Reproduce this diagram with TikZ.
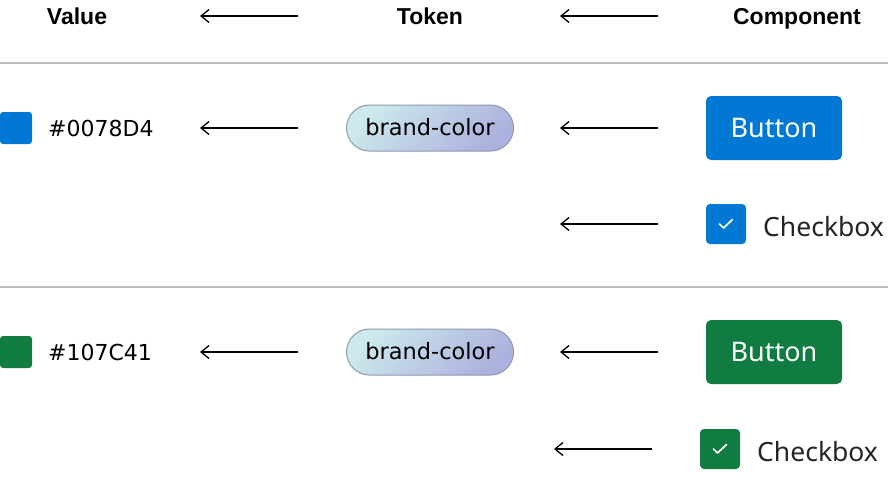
\documentclass[tikz,border=0pt]{standalone}
\usepackage{fontspec}
\setmainfont{DejaVu Sans}
\newfontfamily\headfont{Liberation Sans}
\newfontfamily\uifont{Noto Sans}
\usetikzlibrary{arrows.meta}

\definecolor{brandblue}{HTML}{0078D4}
\definecolor{brandgreen}{HTML}{107C41}
\definecolor{pilltop}{HTML}{CCE9EC}
\definecolor{pillbot}{HTML}{ADB1DE}
\definecolor{pillline}{HTML}{8F98AB}
\definecolor{rulegray}{HTML}{BDBDBD}
\definecolor{inkgray}{HTML}{242424}

\tikzset{
	head/.style={anchor=base, inner sep=0pt, font=\headfont\bfseries\fontsize{23}{26}\selectfont},
	arr/.style={-{Straight Barb[length=8pt,width=13pt]}, line width=1.3pt},
	swatch/.style={minimum size=32pt, inner sep=0pt, rounded corners=3pt},
	hexlbl/.style={anchor=base west, inner sep=0pt, font=\fontsize{22}{25}\selectfont},
	pill/.style={draw=pillline, line width=1pt, top color=pilltop, bottom color=pillbot,
		shading angle=45, minimum width=167pt, minimum height=46pt, rounded corners=23pt,
		inner sep=0pt, text height=16pt, text depth=2pt, font=\fontsize{22.5}{25}\selectfont},
	btn/.style={minimum width=136pt, minimum height=64pt, rounded corners=5pt,
		inner sep=0pt, text height=19pt, text depth=1pt, text=white, font=\uifont\fontsize{27}{30}\selectfont},
	chk/.style={minimum size=40pt, inner sep=0pt, rounded corners=4pt},
	chklbl/.style={anchor=base west, inner sep=0pt, text=inkgray, font=\uifont\fontsize{26.5}{30}\selectfont},
	tick/.style={white, line width=1.7pt, line cap=round, line join=round}
}

\begin{document}
\begin{tikzpicture}[x=1pt,y=-1pt]

	\useasboundingbox (0,0) rectangle (888,480);

	% Arrow ends

	\coordinate (s1) at (298,16);   \coordinate (e1) at (200,16);
	\coordinate (s2) at (658,16);   \coordinate (e2) at (560,16);
	\coordinate (s3) at (298,128);  \coordinate (e3) at (200,128);
	\coordinate (s4) at (658,128);  \coordinate (e4) at (560,128);
	\coordinate (s5) at (658,224);  \coordinate (e5) at (560,224);
	\coordinate (s6) at (298,352);  \coordinate (e6) at (200,352);
	\coordinate (s7) at (658,352);  \coordinate (e7) at (560,352);
	\coordinate (s8) at (652,449);  \coordinate (e8) at (554,449);

	% Header

	\node[head] (hval) at (77,24) {Value};
	\node[head] (htok) at (430,24) {Token};
	\node[head] (hcomp) at (797,24) {Component};

	\draw[rulegray, line width=1.3pt] (0,63) -- (888,63);
	\draw[rulegray, line width=1.3pt] (0,287) -- (888,287);

	% Blue theme

	\node[swatch, fill=brandblue] (sw1) at (16,128) {};
	\node[hexlbl] (hex1) at (48,136) {\#0078D4};
	\node[pill] (tok1) at (430,128) {brand-color};
	\node[btn, fill=brandblue] (btn1) at (774,128) {Button};
	\node[chk, fill=brandblue] (chk1) at (726,224) {};
	\node[chklbl] (cbl1) at (763,236) {Checkbox};

	% Green theme

	\node[swatch, fill=brandgreen] (sw2) at (16,352) {};
	\node[hexlbl] (hex2) at (48,360) {\#107C41};
	\node[pill] (tok2) at (430,352) {brand-color};
	\node[btn, fill=brandgreen] (btn2) at (774,352) {Button};
	\node[chk, fill=brandgreen] (chk2) at (720,449) {};
	\node[chklbl] (cbl2) at (757,461) {Checkbox};

	\foreach \c in {chk1,chk2}
	\draw[tick] ([shift={(-6.5,0)}]\c.center) -- ++(4,4) -- ++(9,-8.5);

	\foreach \i in {1,...,8}
	\draw[arr] (s\i) -- (e\i);

\end{tikzpicture}
\end{document}
